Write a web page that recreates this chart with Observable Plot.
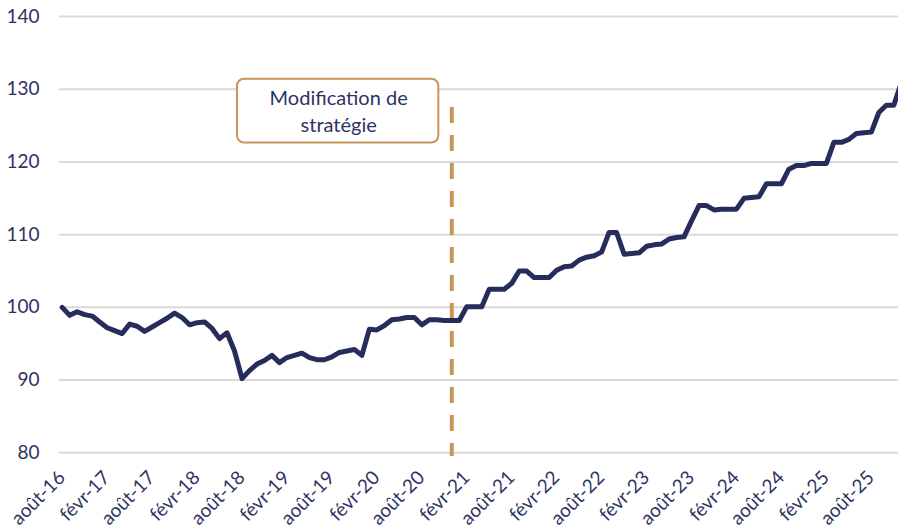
<!DOCTYPE html>
<html>
<head>
<meta charset="utf-8">
<script src="https://cdn.jsdelivr.net/npm/d3@7"></script>
<script src="https://cdn.jsdelivr.net/npm/@observablehq/plot@0.6"></script>
<style>
  html, body { margin: 0; padding: 0; background: #fff; overflow: hidden; }
  #chart svg { display: block; }
</style>
</head>
<body>
<div id="chart"></div>
<script>
// Monthly index values, starting août-16 (index 0)
const values = [
  100.0, 98.9, 99.4, 99.0, 98.8, 98.0, 97.2, 96.8, 96.4, 97.7,
  97.4, 96.7, 97.3, 97.9, 98.5, 99.2, 98.6, 97.6, 97.9, 98.0,
  97.1, 95.7, 96.5, 94.0, 90.2, 91.3, 92.2, 92.7, 93.4, 92.4,
  93.1, 93.4, 93.7, 93.1, 92.8, 92.8, 93.2, 93.8, 94.0, 94.2,
  93.4, 97.0, 96.9, 97.5, 98.3, 98.4, 98.6, 98.6, 97.6, 98.3,
  98.3, 98.2, 98.2, 98.2, 100.1, 100.1, 100.1, 102.5, 102.5, 102.5,
  103.3, 105.0, 105.0, 104.1, 104.1, 104.1, 105.1, 105.6, 105.7, 106.5,
  106.9, 107.1, 107.6, 110.3, 110.3, 107.3, 107.4, 107.5, 108.4, 108.6,
  108.7, 109.4, 109.6, 109.7, 111.9, 114.0, 114.0, 113.4, 113.5, 113.5,
  113.5, 115.0, 115.1, 115.2, 117.0, 117.0, 117.0, 119.0, 119.5, 119.5,
  119.8, 119.8, 119.8, 122.7, 122.7, 123.1, 123.9, 124.0, 124.1, 126.8,
  127.8, 127.8, 130.9
];
const tickLabels = [
  "août-16", "févr-17", "août-17", "févr-18", "août-18", "févr-19",
  "août-19", "févr-20", "août-20", "févr-21", "août-21", "févr-22",
  "août-22", "févr-23", "août-23", "févr-24", "août-24", "févr-25", "août-25"
];
const yTicks = [80, 90, 100, 110, 120, 130, 140];
const annotationLines = ["Modification de", "stratégie"];
const strategyChangeIndex = 52; // déc-20

const series = values.map((v, i) => ({i, v}));
const tickIdx = tickLabels.map((_, k) => k * 6);

const navy = "#262c5b";
const textColor = "#2e3364";
const tan = "#c8955a";
const font = "Lato, 'Open Sans', sans-serif";

const chart = Plot.plot({
  width: 898,
  height: 531,
  marginLeft: 59,
  marginRight: 0,
  marginTop: 16,
  marginBottom: 78.7,
  style: {fontFamily: font, background: "#fff", color: textColor},
  x: {type: "linear", domain: [0, 112], range: [61.7, 900.8]},
  y: {domain: [80, 140]},
  marks: [
    Plot.ruleY(yTicks, {stroke: "#d9d9d9", strokeWidth: 2}),
    Plot.axisY({ticks: yTicks, tickSize: 0, tickPadding: 20, fontSize: 19, fill: textColor, label: null}),
    Plot.axisX({
      ticks: tickIdx,
      tickFormat: (d) => tickLabels[d / 6],
      tickSize: 0,
      tickPadding: 26,
      tickRotate: -45,
      textAnchor: "end",
      lineAnchor: "bottom",
      dx: 4,
      fontSize: 19,
      fill: textColor,
      label: null
    }),
    Plot.ruleX([strategyChangeIndex], {y1: 127.5, y2: 79.5, stroke: tan, strokeWidth: 4, strokeDasharray: "16,12"}),
    Plot.line(series, {x: "i", y: "v", stroke: navy, strokeWidth: 5, strokeLinejoin: "round", strokeLinecap: "round"}),
    Plot.rect([{x1: 23.4, x2: 50.27, y1: 122.6, y2: 131.37}], {x1: "x1", x2: "x2", y1: "y1", y2: "y2", rx: 7, fill: "#fff", stroke: tan, strokeWidth: 2}),
    Plot.text([annotationLines[0]], {x: 36.9, y: 128.73, text: (d) => d, fontSize: 20, fill: textColor, lineAnchor: "middle"}),
    Plot.text([annotationLines[1]], {x: 36.9, y: 125.06, text: (d) => d, fontSize: 20, fill: textColor, lineAnchor: "middle"})
  ]
});
document.getElementById("chart").appendChild(chart);
</script>
</body>
</html>
